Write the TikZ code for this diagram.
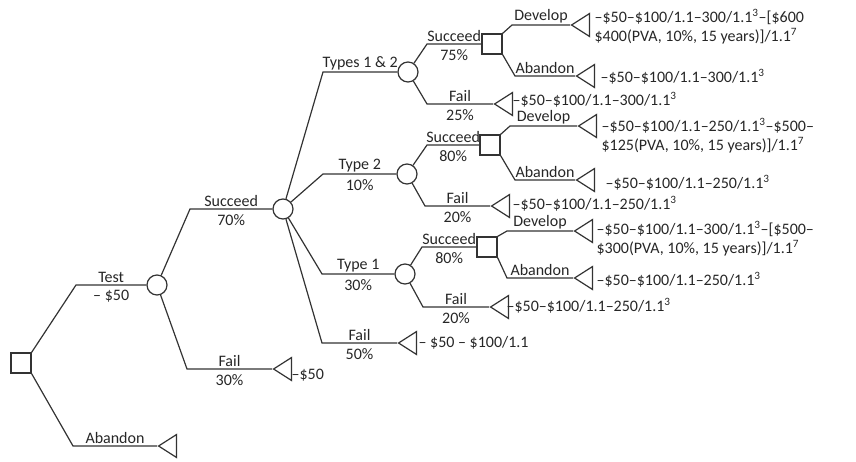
\documentclass[tikz,border=0pt]{standalone}
\usepackage{fontspec}
\setmainfont{Carlito}
\usetikzlibrary{shapes.geometric}

\tikzset{
  decision/.style={rectangle, draw, minimum size=20pt, inner sep=0pt},
  chance/.style={circle, draw, minimum size=20pt, inner sep=0pt},
  endpt/.style={isosceles triangle, shape border rotate=180, draw,
    isosceles triangle stretches, minimum width=23pt, minimum height=18pt,
    inner sep=0pt, anchor=apex},
  payoff/.style={anchor=west, align=left, inner sep=0pt},
  up/.style={above, inner sep=1.5pt},
  down/.style={below, inner sep=5pt}
}
\newcommand{\sq}[1]{\textsuperscript{#1}}

\begin{document}
\begin{tikzpicture}[x=1pt, y=-1pt, line width=1.2pt, draw=black!80, text=black!85,
    font=\fontsize{16}{19}\selectfont]
		\useasboundingbox (0,0) rectangle (856,461);

		% decision and chance nodes
		\node[decision] (root) at (21,363) {};
		\node[chance] (test) at (157,285) {};
		\node[chance] (succ) at (283,209) {};
		\node[chance] (both) at (408,72) {};
		\node[chance] (two) at (407,174) {};
		\node[chance] (one) at (405,274) {};
		\node[decision] (dboth) at (492,44) {};
		\node[decision] (dtwo) at (490,145) {};
		\node[decision] (done) at (487,247) {};

		% end points
		\node[endpt] (eaband) at (157,446) {};
		\node[endpt] (efail) at (272,369) {};
		\node[endpt] (efail2) at (397,343) {};
		\node[endpt] (ebothdev) at (570,25) {};
		\node[endpt] (ebothab) at (575,76) {};
		\node[endpt] (ebothf) at (493,104) {};
		\node[endpt] (etwodev) at (577,126) {};
		\node[endpt] (etwoab) at (575,180) {};
		\node[endpt] (etwof) at (490,206) {};
		\node[endpt] (eonedev) at (573,231) {};
		\node[endpt] (eoneab) at (573,278) {};
		\node[endpt] (eonef) at (489,307) {};

		% branches
		\draw (root.north east) -- (76,285) -- node[up]{Test} node[down]{– \$50} (test);
		\draw (root.south east) -- (73,446) -- node[up]{Abandon} (eaband.apex);
		\draw (test) -- (187,369) -- node[up]{Fail} node[down]{30\%} (efail.apex);
		\draw (test) -- (190,209) -- node[up]{Succeed} node[down]{70\%} (succ);
		\draw (succ) -- (323,72) -- node[up]{Types 1 \& 2} (both);
		\draw (succ) -- (323,174) -- node[up]{Type 2} node[down]{10\%} (two);
		\draw (succ) -- (322,274) -- node[up]{Type 1} node[down]{30\%} (one);
		\draw (succ) -- (322,343) -- node[up]{Fail} node[down]{50\%} (efail2.apex);

		\draw (both) -- (427,44) -- node[up]{Succeed} node[down]{75\%} (dboth);
		\draw (both) -- (427,104) -- node[up]{Fail} node[down]{25\%} (ebothf.apex);
		\draw (dboth.north east) -- (512,25) -- node[up]{Develop} (ebothdev.apex);
		\draw (dboth.south east) -- (515,76) -- node[up]{Abandon} (ebothab.apex);

		\draw (two) -- (427,145) -- node[up]{Succeed} node[down]{80\%} (dtwo);
		\draw (two) -- (425,206) -- node[up]{Fail} node[down]{20\%} (etwof.apex);
		\draw (dtwo.north east) -- (510,126) -- node[up]{Develop} (etwodev.apex);
		\draw (dtwo.south east) -- (515,180) -- node[up]{Abandon} (etwoab.apex);

		\draw (one) -- (422,247) -- node[up]{Succeed} node[down]{80\%} (done);
		\draw (one) -- (423,307) -- node[up]{Fail} node[down]{20\%} (eonef.apex);
		\draw (done.north east) -- (507,231) -- node[up]{Develop} (eonedev.apex);
		\draw (done.south east) -- (507,278) -- node[up]{Abandon} (eoneab.apex);

		% payoffs
		\node[payoff] (pfail) at (291,375) {–\$50};
		\node[payoff] (pfail2) at (418,343) {– \$50 – \$100/1.1};
		\node[payoff] (pbothdev) at (594,27) {–\$50–\$100/1.1–300/1.1\sq{3}–[\$600\\\$400(PVA, 10\%, 15 years)]/1.1\sq{7}};
		\node[payoff] (pbothab) at (600,77) {–\$50–\$100/1.1–300/1.1\sq{3}};
		\node[payoff] (pbothf) at (512,100) {–\$50–\$100/1.1–300/1.1\sq{3}};
		\node[payoff] (ptwodev) at (601,136) {–\$50–\$100/1.1–250/1.1\sq{3}–\$500–\\\$125(PVA, 10\%, 15 years)]/1.1\sq{7}};
		\node[payoff] (ptwoab) at (605,183) {–\$50–\$100/1.1–250/1.1\sq{3}};
		\node[payoff] (ptwof) at (512,204) {–\$50–\$100/1.1–250/1.1\sq{3}};
		\node[payoff] (ponedev) at (596,239) {–\$50–\$100/1.1–300/1.1\sq{3}–[\$500–\\\$300(PVA, 10\%, 15 years)]/1.1\sq{7}};
		\node[payoff] (poneab) at (596,280) {–\$50–\$100/1.1–250/1.1\sq{3}};
		\node[payoff] (ponef) at (506,306) {–\$50–\$100/1.1–250/1.1\sq{3}};
\end{tikzpicture}
\end{document}
